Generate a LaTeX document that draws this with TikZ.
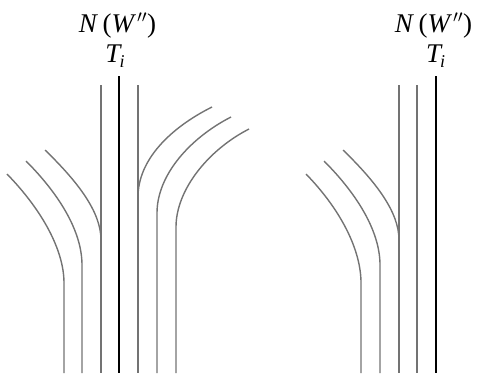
\documentclass[tikz,border=0pt]{standalone}
\usepackage{fontspec}
\setmainfont{Liberation Serif}
\begin{document}
\begin{tikzpicture}[x=1pt,y=-1pt,
  strand/.style={draw=black!55, line width=1.4pt},
  core/.style={draw=black, line width=2.8pt},
  lab/.style={anchor=base, inner sep=0pt, font=\fontsize{27}{32}\selectfont}]
\useasboundingbox (0,0) rectangle (478,373);
% labels
\node[lab] (nw1) at (117.5,32) {\textit{N}\,(\textit{W}\kern1pt$''$)};
\node[lab] (ti1) at (115,62) {\textit{T\kern-1pt\raisebox{-5pt}{\fontsize{18}{20}\selectfont i}}};
\node[lab] (nw2) at (433.5,32) {\textit{N}\,(\textit{W}\kern1pt$''$)};
\node[lab] (ti2) at (435.5,62) {\textit{T\kern-1pt\raisebox{-5pt}{\fontsize{18}{20}\selectfont i}}};
% left figure
\draw[core] (119,76) -- (119,373);
\draw[strand] (101,85) -- (101,373);
\draw[strand] (138,85) -- (138,373);
\draw[strand] (45,150) .. controls (78,182) and (101,212) .. (101,240);
\draw[strand] (26,161) .. controls (60,195) and (82,232) .. (82,265) -- (82,373);
\draw[strand] (7,174) .. controls (42,210) and (64,250) .. (64,283) -- (64,373);
\draw[strand] (212,107) .. controls (170,128) and (138,160) .. (138,197);
\draw[strand] (231,117) .. controls (190,138) and (157,175) .. (157,213) -- (157,373);
\draw[strand] (249,129) .. controls (208,150) and (176,190) .. (176,227) -- (176,373);
% right figure
\draw[core] (436,76) -- (436,373);
\draw[strand] (399,85) -- (399,373);
\draw[strand] (417,85) -- (417,373);
\draw[strand] (343,150) .. controls (376,182) and (399,212) .. (399,240);
\draw[strand] (324,161) .. controls (358,195) and (380,232) .. (380,265) -- (380,373);
\draw[strand] (306,174) .. controls (341,210) and (361,250) .. (361,283) -- (361,373);
\end{tikzpicture}
\end{document}
